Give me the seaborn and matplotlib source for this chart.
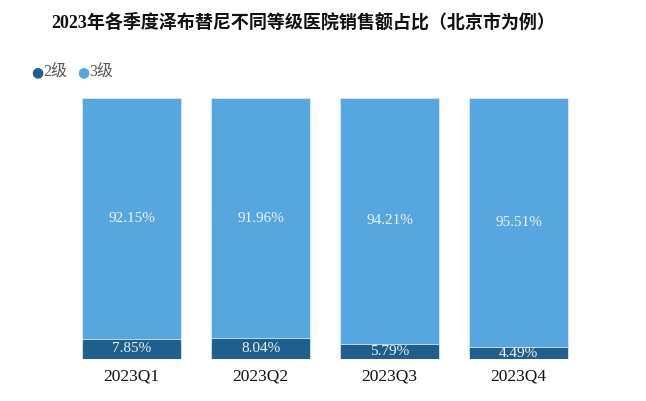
import pandas as pd
import matplotlib.pyplot as plt
import seaborn as sns

# 数据
quarters = ["2023Q1", "2023Q2", "2023Q3", "2023Q4"]
level2 = [7.85, 8.04, 5.79, 4.49]
level3 = [92.15, 91.96, 94.21, 95.51]

df = pd.DataFrame({"季度": quarters, "2级": level2, "3级": level3})
df["合计"] = df["2级"] + df["3级"]

sns.set_style("white")
plt.rcParams['font.family'] = ['Liberation Serif', 'Noto Sans CJK SC']

dark = "#1E5F8E"
light = "#56A6DF"

fig = plt.figure(figsize=(6.46, 4.01), dpi=100)
ax = fig.add_axes([67 / 646, 42 / 401, 516 / 646, 261 / 401])

sns.barplot(data=df, x="季度", y="合计", color=light, width=0.775,
            edgecolor="#D8E8F5", linewidth=0.6, ax=ax, saturation=1)
sns.barplot(data=df, x="季度", y="2级", color=dark, width=0.775,
            edgecolor="#D8E8F5", linewidth=0.6, ax=ax, saturation=1)

ax.set_ylim(0, 100)
ax.set_xlim(-0.5, 3.5)

for i, (a, b) in enumerate(zip(level2, level3)):
    ax.text(i, a + b / 2, f"{b:.2f}%", ha="center", va="center",
            color="#EEF4FA", fontsize=11)
    ax.text(i, a / 2, f"{a:.2f}%", ha="center", va="center",
            color="#EEF4FA", fontsize=11)

ax.set_xlabel("")
ax.set_ylabel("")
ax.set_yticks([])
ax.tick_params(axis="x", length=0, labelsize=12.5, pad=7, colors="#111111")
sns.despine(ax=ax, left=True, bottom=True)

fig.text(303 / 646, 1 - 22 / 401, "2023年各季度泽布替尼不同等级医院销售额占比（北京市为例）",
         ha="center", va="center", fontsize=13, fontweight="bold", color="#111111")

# 图例
ly = 1 - 72 / 401
fig.text(31 / 646, ly, "●", color=dark, fontsize=10, ha="left", va="center", family="DejaVu Sans")
fig.text(43 / 646, ly, "2级", color="#595959", fontsize=11.5, ha="left", va="center")
fig.text(77 / 646, ly, "●", color=light, fontsize=10, ha="left", va="center", family="DejaVu Sans")
fig.text(89 / 646, ly, "3级", color="#595959", fontsize=11.5, ha="left", va="center")

fig.savefig("out.png", dpi=100)
